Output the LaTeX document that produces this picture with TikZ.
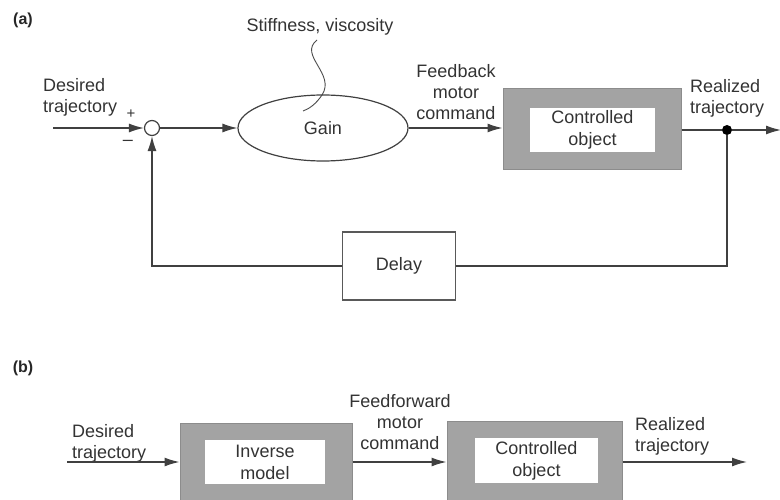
\documentclass[tikz,border=0pt]{standalone}
\usepackage{fontspec}
\setmainfont{Liberation Sans}
\usetikzlibrary{arrows.meta,shapes.geometric}
\begin{document}
\begin{tikzpicture}[x=1pt,y=-1pt,
  line/.style={draw=black!75, line width=1.3pt},
  arr/.style={line, -{Latex[length=15pt,width=9pt]}},
  lbl/.style={font=\fontsize{18}{21}\selectfont, text=black!80, align=center, inner sep=0pt},
  outerbox/.style={draw=black!45, fill=black!36, line width=1pt, inner sep=0pt},
  innerbox/.style={fill=white, draw=none, inner sep=0pt, align=center, text=black!80, font=\fontsize{18}{22}\selectfont},
  plainbox/.style={draw=black!65, fill=white, line width=1.2pt, inner sep=0pt, text=black!80, font=\fontsize{18}{21}\selectfont},
  panel/.style={font=\bfseries\fontsize{16}{18}\selectfont, text=black!85, inner sep=0pt}
]
\useasboundingbox (0,0) rectangle (780,500);
\clip (0,0) rectangle (780,500);

% ---------- (a) ----------
\node[panel] (la) at (23,20) {(a)};
\node[lbl] (stiff) at (320,27) {Stiffness, viscosity};
\coordinate (wigA) at (317,40);
\coordinate (wigB) at (303,111);
\draw[draw=black!70, line width=0.9pt] (wigA) .. controls (298,55) and (336,74) .. (322,95) .. controls (316,104) and (309,109) .. (wigB);

\node[lbl, align=left, anchor=west] (desA) at (43,97) {Desired\\trajectory};
\coordinate (inA) at (53,128);
\node[circle, draw=black!75, line width=1.2pt, fill=white, minimum size=15pt, inner sep=0pt] (sum) at (152,128) {};
\node[lbl, font=\fontsize{15}{18}\selectfont] (plus) at (131,114) {+};
\node[lbl] (minus) at (128,143) {--};

\node[ellipse, draw=black!75, line width=1.2pt, minimum width=170pt, minimum height=66pt, inner sep=0pt,
      text=black!80, font=\fontsize{18}{21}\selectfont] (gain) at (323,128) {Gain};

\node[lbl] (fb) at (456,92) {Feedback\\motor\\command};

\node[outerbox, minimum width=178pt, minimum height=81pt] (ctrlA) at (592,129.5) {};
\node[innerbox, minimum width=125pt, minimum height=44pt] (ctrlAin) at (592.5,130) {Controlled\\object};

\node[lbl, align=left, anchor=west] (realA) at (690,98) {Realized\\trajectory};
\node[circle, fill=black, minimum size=10pt, inner sep=0pt] (dot) at (727,130) {};
\coordinate (outA) at (781,130);

\node[plainbox, minimum width=113pt, minimum height=68pt] (delay) at (399,266) {Delay};

\draw[arr] (inA) -- (sum.west);
\draw[arr] (sum.east) -- (gain.west);
\draw[arr] (gain.east) -- (gain.east -| ctrlA.west);
\draw[line] (ctrlA.east |- dot) -- (dot);
\draw[arr] (dot) -- (outA);
\draw[line] (dot) |- (delay.east);
\draw[arr] (delay.west) -| (sum.south);

% ---------- (b) ----------
\node[panel] (lb) at (23,368) {(b)};
\node[lbl, align=left, anchor=west] (desB) at (72,443) {Desired\\trajectory};
\coordinate (inB) at (67,462);

\node[outerbox, minimum width=172pt, minimum height=79pt] (inv) at (266,462.5) {};
\node[innerbox, minimum width=120pt, minimum height=44pt] (invin) at (265,462) {Inverse\\model};

\node[lbl] (ff) at (400,422) {Feedforward\\motor\\command};

\node[outerbox, minimum width=175pt, minimum height=81pt] (ctrlB) at (534.5,461.5) {};
\node[innerbox, minimum width=123pt, minimum height=45pt] (ctrlBin) at (536.5,460.5) {Controlled\\object};

\node[lbl, align=left, anchor=west] (realB) at (635,436) {Realized\\trajectory};
\coordinate (outB) at (747,462);

\draw[arr] (inB) -- (inB -| inv.west);
\draw[arr] (inv.east |- inB) -- (inB -| ctrlB.west);
\draw[arr] (ctrlB.east |- outB) -- (outB);
\end{tikzpicture}
\end{document}
